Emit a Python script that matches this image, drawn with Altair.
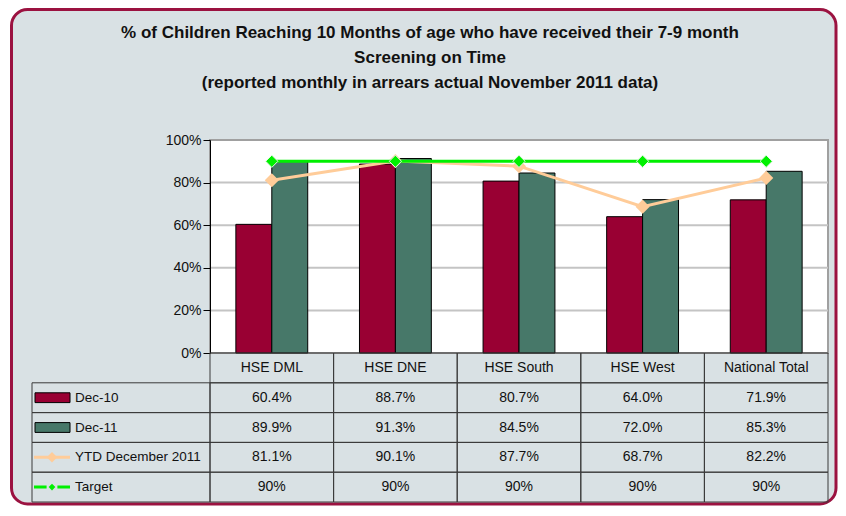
import altair as alt
import pandas as pd

# ---------------- data ----------------
categories = ["HSE DML", "HSE DNE", "HSE South", "HSE West", "National Total"]
dec10 = [60.4, 88.7, 80.7, 64.0, 71.9]
dec11 = [89.9, 91.3, 84.5, 72.0, 85.3]
ytd_dec2011 = [81.1, 90.1, 87.7, 68.7, 82.2]
target = [90, 90, 90, 90, 90]
series_names = ["Dec-10", "Dec-11", "YTD December 2011", "Target"]
y_ticks = [0, 20, 40, 60, 80, 100]
title_lines = [
    "% of Children Reaching 10 Months of age who have received their 7-9 month",
    "Screening on Time",
    "(reported monthly in arrears actual November 2011 data)",
]

# ---------------- styles ----------------
FONT = "Liberation Sans"
BG = "#d9e1e4"
FRAME = "#9b1240"
RED = "#990033"
TEAL = "#477869"
PEACH = "#ffcc99"
GREEN = "#00f000"
LINE = "#3a3a3a"
W, H, TH = 618, 213, 149
LEFTCOL = 178

# ---------------- tables ----------------
bar_df = pd.DataFrame({
    "cat": categories * 2,
    "series": ["Dec-10"] * len(categories) + ["Dec-11"] * len(categories),
    "value": dec10 + dec11,
})
line_df = pd.DataFrame({"cat": categories, "ytd": ytd_dec2011, "target": target})
grid_df = pd.DataFrame({"v": y_ticks[1:-1]})
one = pd.DataFrame({"k": [0]})
title_df = pd.DataFrame({"t": ["\n".join(title_lines)]})

rows = []
for c in categories:
    rows.append({"row": "", "cat": c, "text": c})
for name, vals in zip(series_names, [dec10, dec11, ytd_dec2011, target]):
    for c, v in zip(categories, vals):
        txt = f"{v:.0f}%" if name == "Target" else f"{v:.1f}%"
        rows.append({"row": name, "cat": c, "text": txt})
table_df = pd.DataFrame(rows)
leg_df = pd.DataFrame({"row": series_names})

# ---------------- top chart ----------------
x_enc = alt.X("cat:N", sort=categories,
              scale=alt.Scale(paddingInner=0, paddingOuter=0), axis=None)
y_scale = alt.Scale(domain=[0, 100], nice=False)
y_axis = alt.Axis(values=y_ticks, labelExpr="datum.value + '%'", title=None,
                  grid=False, domainColor="black", domainWidth=1,
                  tickColor="black", tickSize=7, tickWidth=1,
                  labelFont=FONT, labelFontSize=14, labelColor="#111111",
                  labelPadding=2, zindex=1)


def yq(field):
    return alt.Y(field, type="quantitative", scale=y_scale, axis=y_axis, title=None)


frame = alt.Chart(one).mark_rect(
    fill=BG, stroke=FRAME, strokeWidth=3, cornerRadius=16
).encode(x=alt.value(-198.5), x2=alt.value(626), y=alt.value(-130.5), y2=alt.value(364))

plot_bg = alt.Chart(one).mark_rect(
    fill="white", stroke="#a0a0a0", strokeWidth=2
).encode(x=alt.value(0), x2=alt.value(W), y=alt.value(0), y2=alt.value(H))

title = alt.Chart(title_df).mark_text(
    lineBreak="\n", lineHeight=25, align="center", baseline="top",
    font=FONT, fontWeight="bold", fontSize=17, color="#111111"
).encode(x=alt.value(220), y=alt.value(-115), text="t:N")

grid = alt.Chart(grid_df).mark_rule(color="#c4c4c4", strokeWidth=2).encode(y=yq("v"))

bars = alt.Chart(bar_df).mark_bar(stroke="black", strokeWidth=1).encode(
    x=x_enc,
    xOffset=alt.XOffset("series:N", sort=["Dec-10", "Dec-11"],
                        scale=alt.Scale(paddingInner=0, paddingOuter=0.72)),
    y=yq("value"),
    color=alt.Color("series:N", scale=alt.Scale(domain=["Dec-10", "Dec-11"], range=[RED, TEAL]),
                    legend=None),
)

ytd_line = alt.Chart(line_df).mark_line(color=PEACH, strokeWidth=3).encode(x=x_enc, y=yq("ytd"))
ytd_pts = alt.Chart(line_df).mark_point(
    shape="diamond", filled=True, size=200, color=PEACH, opacity=1
).encode(x=x_enc, y=yq("ytd"))
tgt_line = alt.Chart(line_df).mark_line(color=GREEN, strokeWidth=3).encode(x=x_enc, y=yq("target"))
tgt_pts = alt.Chart(line_df).mark_point(
    shape="diamond", filled=True, size=150, fill=GREEN, stroke="#e6f6e6", strokeWidth=1, opacity=1
).encode(x=x_enc, y=yq("target"))

top = alt.layer(frame, plot_bg, title, grid, bars, ytd_line, ytd_pts, tgt_line, tgt_pts).properties(
    width=W, height=H, view=alt.ViewBackground(strokeWidth=0))

# ---------------- bottom data table ----------------
xt = alt.X("cat:N", sort=categories, scale=alt.Scale(paddingInner=0, paddingOuter=0), axis=None)
yt = alt.Y("row:N", sort=[""] + series_names,
           scale=alt.Scale(domain=[""] + series_names, paddingInner=0, paddingOuter=0), axis=None)

cells = alt.Chart(table_df).mark_rect(fillOpacity=0, stroke=LINE, strokeWidth=1).encode(x=xt, y=yt)
cell_text = alt.Chart(table_df).mark_text(font=FONT, fontSize=14, color="#111111").encode(
    x=xt, y=yt, text="text:N")

leg_cells = alt.Chart(leg_df).mark_rect(fillOpacity=0, stroke=LINE, strokeWidth=1).encode(
    x=alt.value(-LEFTCOL), x2=alt.value(0), y=yt)
leg_text = alt.Chart(leg_df).mark_text(align="left", font=FONT, fontSize=13.5, color="#111111").encode(
    x=alt.value(-135), y=yt, text="row:N")
swatch = alt.Chart(leg_df).transform_filter(
    alt.FieldOneOfPredicate(field="row", oneOf=["Dec-10", "Dec-11"])
).mark_point(shape="M-1,-0.28H1V0.28H-1Z", filled=True, size=1225, stroke="black",
             strokeWidth=1, opacity=1).encode(
    x=alt.value(-157.5), y=yt,
    fill=alt.Fill("row:N", scale=alt.Scale(domain=["Dec-10", "Dec-11"], range=[RED, TEAL]), legend=None))
ytd_leg_line = alt.Chart(leg_df).transform_filter(alt.datum.row == "YTD December 2011").mark_point(
    shape="M-1,0H1", filled=False, size=1296, stroke=PEACH, strokeWidth=3, opacity=1
).encode(x=alt.value(-158), y=yt)
ytd_leg_pt = alt.Chart(leg_df).transform_filter(alt.datum.row == "YTD December 2011").mark_point(
    shape="diamond", filled=True, size=110, color=PEACH, opacity=1
).encode(x=alt.value(-158), y=yt)
tgt_leg_line = alt.Chart(leg_df).transform_filter(alt.datum.row == "Target").mark_point(
    shape="M-1,0H-0.3M0.3,0H1", filled=False, size=1296, stroke=GREEN, strokeWidth=3, opacity=1
).encode(x=alt.value(-158), y=yt)
tgt_leg_pt = alt.Chart(leg_df).transform_filter(alt.datum.row == "Target").mark_point(
    shape="diamond", filled=True, size=45, color=GREEN, opacity=1
).encode(x=alt.value(-158), y=yt)

bottom = alt.layer(cells, cell_text, leg_cells, leg_text, swatch,
                   ytd_leg_line, ytd_leg_pt, tgt_leg_line, tgt_leg_pt).properties(
    width=W, height=TH, view=alt.ViewBackground(strokeWidth=0))

chart = alt.vconcat(top, bottom, spacing=0, bounds="flush").properties(
    padding={"left": 2, "top": 0, "right": 0, "bottom": 2}, background="white"
).configure_view(strokeWidth=0)

chart.save("out.html", embed_options={"renderer": "svg", "actions": False})
